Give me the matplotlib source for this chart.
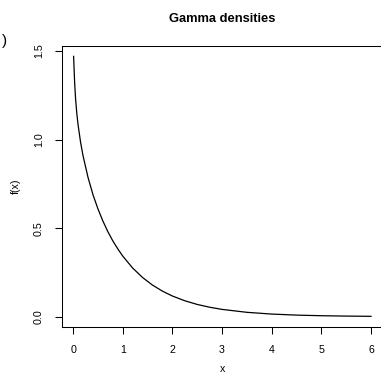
import matplotlib
matplotlib.use("Agg")
import matplotlib.pyplot as plt

# Values
x_vals = [0.01, 0.02, 0.03, 0.05, 0.075, 0.1, 0.15, 0.2, 0.3, 0.4, 0.5, 0.6, 0.7,
          0.8, 0.9, 1.0, 1.2, 1.4, 1.6, 1.8, 2.0, 2.25, 2.5, 2.75, 3.0, 3.5,
          4.0, 4.5, 5.0, 5.5, 6.0]
f_vals = [1.47, 1.40, 1.327, 1.23, 1.147, 1.084, 0.986, 0.909, 0.787, 0.689,
          0.609, 0.540, 0.480, 0.428, 0.383, 0.342, 0.2745, 0.221, 0.178, 0.144,
          0.1166, 0.0897, 0.0690, 0.0532, 0.0410, 0.0245, 0.0146, 0.0087,
          0.0053, 0.0032, 0.0019]
x_ticks = [0, 1, 2, 3, 4, 5, 6]
y_ticks = [0.0, 0.5, 1.0, 1.5]
y_tick_labels = ["0.0", "0.5", "1.0", "1.5"]
title = "Gamma densities"

plt.rcParams['font.family'] = ['Liberation Sans', 'DejaVu Sans']

W, H = 381, 376
fig = plt.figure(figsize=(W / 100, H / 100), dpi=100)
ax = fig.add_axes([61.7 / W, 1 - 326.8 / H, (382.9 - 61.7) / W, (326.8 - 45.9) / H])

ax.plot(x_vals, f_vals, color="black", linewidth=0.9)

ax.set_xlim(-0.2296, 6.2396)
ax.set_ylim(-0.0573, 1.5292)
ax.set_xticks(x_ticks)
ax.set_xticklabels([str(t) for t in x_ticks])
ax.set_yticks(y_ticks)
ax.set_yticklabels(y_tick_labels, rotation=90, va="center")
ax.tick_params(axis="both", direction="out", length=5.3, width=0.75,
               labelsize=7.7, colors="black")
ax.tick_params(axis="x", pad=7.5)
ax.tick_params(axis="y", pad=7.5)
for s in ax.spines.values():
    s.set_linewidth(0.75)
    s.set_color("black")

fig.text(222.3 / W, 1 - 19.3 / H, title, ha="center", va="center",
         fontsize=9.3, fontweight="bold")
fig.text(16 / W, 1 - 186.4 / H, "f(x)", rotation=90, ha="center", va="center",
         fontsize=7.7)
fig.text(222.3 / W, 1 - 373.5 / H, "x", ha="center", va="bottom", fontsize=7.7)
fig.text(7 / W, 1 - 41 / H, ")", ha="right", va="center", fontsize=11)

fig.savefig("out.png", dpi=100)
